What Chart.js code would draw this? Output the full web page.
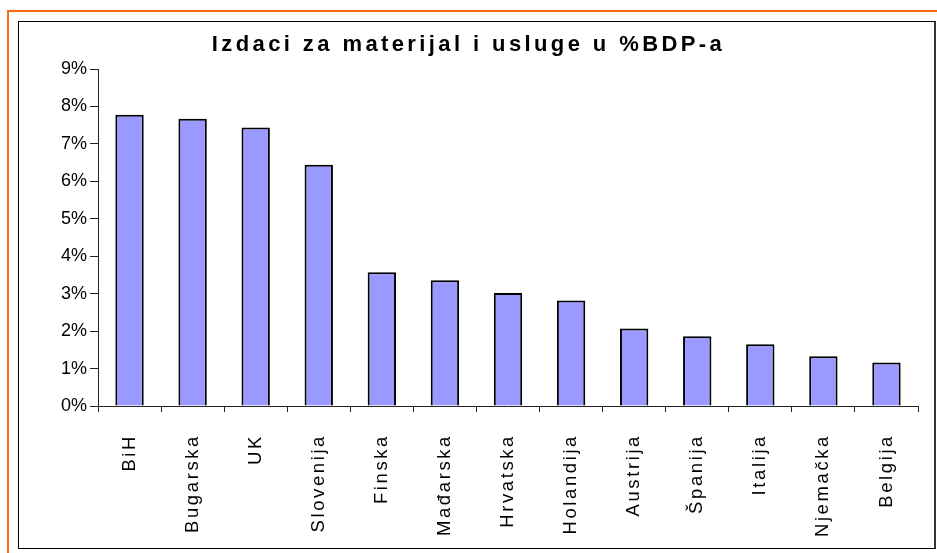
<!DOCTYPE html>
<html>
<head>
<meta charset="utf-8">
<script src="https://cdn.jsdelivr.net/npm/chart.js@4/dist/chart.umd.min.js"></script>
<style>
  html, body { margin: 0; padding: 0; background: #fff; width: 937px; height: 553px; overflow: hidden; }
  #frame { position: absolute; left: 7px; top: 10px; width: 940px; height: 560px;
           border-top: 2px solid #ff6a10; border-left: 2px solid #ff6a10; }
  #box { position: absolute; left: 18px; top: 21px; width: 915px; height: 526px;
         border: 1px solid #000; border-right: 2px solid #333; background: #fff; }
  #c { display: block; }
</style>
</head>
<body>
<div id="frame"></div>
<div id="box"><canvas id="c" width="915" height="526"></canvas></div>
<script>
const titleText = 'Izdaci za materijal i usluge u %BDP-a';
const categories = ['BiH', 'Bugarska', 'UK', 'Slovenija', 'Finska', 'Mađarska', 'Hrvatska',
                    'Holandija', 'Austrija', 'Španija', 'Italija', 'Njemačka', 'Belgija'];
const values = [7.78, 7.67, 7.44, 6.44, 3.57, 3.36, 3.02, 2.82, 2.07, 1.86, 1.65, 1.33, 1.16];
const yMin = 0, yMax = 9, yStep = 1;

const spacingPlugin = {
  id: 'spacing',
  beforeInit(chart) {
    const ctx = chart.ctx;
    ctx.fillText = function (text, x, y, mw) {
      const prev = this.letterSpacing;
      let ls = '2.6px';
      if (this.font.indexOf('bold') >= 0) ls = '3.4px';
      else if (String(text).endsWith('%')) ls = '0px';
      this.letterSpacing = ls;
      if (mw === undefined) CanvasRenderingContext2D.prototype.fillText.call(this, text, x, y);
      else CanvasRenderingContext2D.prototype.fillText.call(this, text, x, y, mw);
      this.letterSpacing = prev;
    };
  }
};

new Chart(document.getElementById('c'), {
  type: 'bar',
  data: {
    labels: categories,
    datasets: [{
      data: values,
      backgroundColor: '#9999ff',
      borderColor: '#000',
      borderWidth: 2,
      categoryPercentage: 1,
      barPercentage: 0.45
    }]
  },
  plugins: [spacingPlugin],
  options: {
    responsive: false,
    animation: false,
    layout: { padding: { left: 0, right: 16, top: 0, bottom: 0 } },
    plugins: {
      legend: { display: false },
      tooltip: { enabled: false },
      title: {
        display: true,
        text: titleText,
        color: '#000',
        font: { family: '"Liberation Sans", Arial, sans-serif', size: 22, weight: 'bold' },
        padding: { top: 10, bottom: 10.6 }
      }
    },
    scales: {
      x: {
        offset: true,
        grid: { display: true, drawOnChartArea: false, offset: true, tickLength: 6, color: '#222' },
        border: { display: true, color: '#222', width: 1 },
        ticks: {
          color: '#000',
          minRotation: 90, maxRotation: 90,
          padding: 22,
          autoSkip: false,
          font: { family: '"Liberation Sans", Arial, sans-serif', size: 18.5 }
        },
        afterFit(scale) { scale.height = 142; }
      },
      y: {
        min: yMin, max: yMax,
        grid: { display: true, drawOnChartArea: false, tickLength: 8, color: '#222' },
        border: { display: true, color: '#222', width: 1 },
        ticks: {
          stepSize: yStep,
          color: '#000',
          padding: 3,
          font: { family: '"Liberation Sans", Arial, sans-serif', size: 18 },
          callback: v => v + '%'
        },
        afterFit(scale) { scale.width = 79; }
      }
    }
  }
});
</script>
</body>
</html>
